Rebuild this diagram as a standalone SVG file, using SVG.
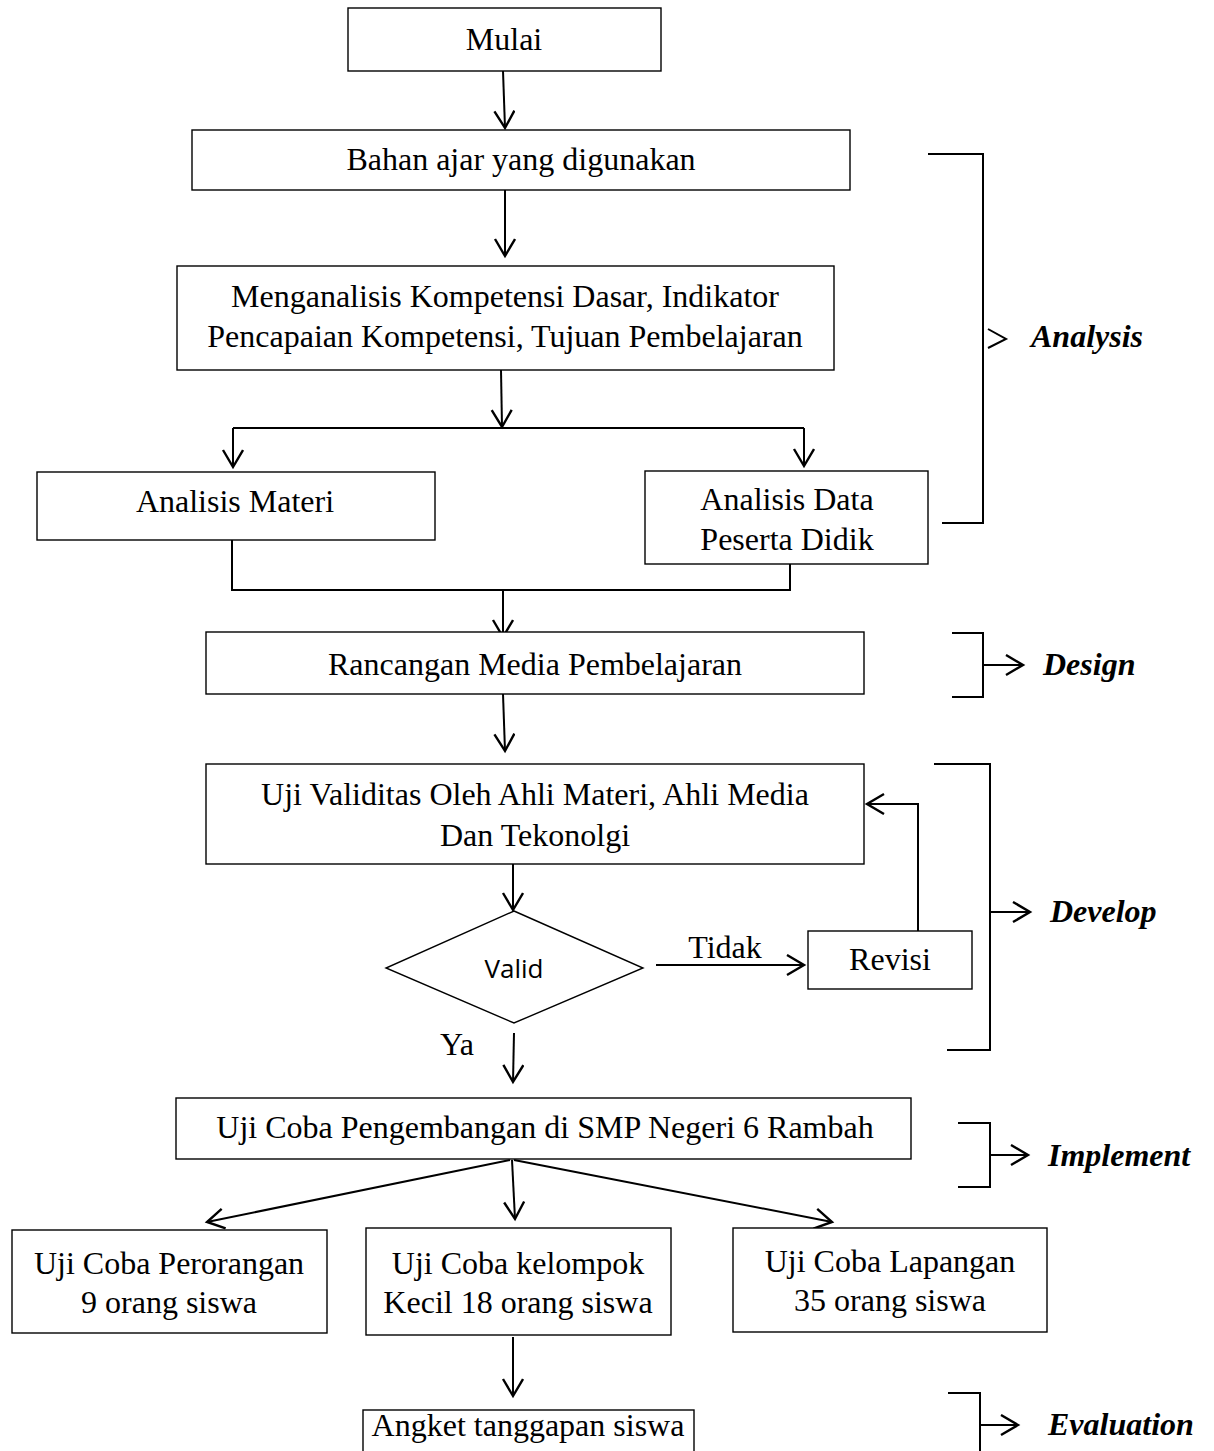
<svg xmlns="http://www.w3.org/2000/svg" width="1214" height="1451" viewBox="0 0 1214 1451">
<defs>
<style>
.box{fill:#fff;stroke:#000;stroke-width:1.4}
.t{font-family:"Liberation Serif","Times New Roman",serif;font-size:32px;fill:#000;text-anchor:middle}
.lab{font-family:"Liberation Serif","Times New Roman",serif;font-size:32px;font-weight:bold;font-style:italic;fill:#000}
.v{font-family:"Open Sans","Liberation Sans",sans-serif;font-size:26px;fill:#000;text-anchor:middle}
.c{fill:none;stroke:#000;stroke-width:2}
.a{fill:none;stroke:#000;stroke-width:2;marker-end:url(#ah)}
</style>
<marker id="ah" markerUnits="userSpaceOnUse" markerWidth="30" markerHeight="30" refX="20" refY="11" orient="auto" viewBox="0 0 30 30">
<path d="M3,1 L20,11 L3,21" fill="none" stroke="#000" stroke-width="2.4"/>
</marker>
</defs>
<rect width="1214" height="1451" fill="#fff"/>

<g id="connectors">
<line class="a" x1="503" y1="71" x2="505" y2="128"/>
<line class="a" x1="505" y1="190" x2="505" y2="256"/>
<line class="a" x1="501" y1="370" x2="502" y2="427"/>
<path class="c" d="M233,428 H804"/>
<line class="a" x1="233" y1="428" x2="233" y2="467"/>
<line class="a" x1="804" y1="428" x2="804" y2="466"/>
<path class="c" d="M232,540 V590 H790 V564"/>
<line class="a" x1="503" y1="590" x2="503" y2="637"/>
<line class="a" x1="503" y1="694" x2="505" y2="751"/>
<line class="a" x1="513" y1="864" x2="513" y2="910"/>
<line class="a" x1="656" y1="965" x2="804" y2="965"/>
<path class="a" d="M918,931 V804 H867"/>
<line class="a" x1="514" y1="1033" x2="513" y2="1082"/>
<line class="a" x1="510" y1="1160" x2="207" y2="1222"/>
<line class="a" x1="512" y1="1160" x2="515" y2="1219"/>
<line class="a" x1="514" y1="1160" x2="832" y2="1222"/>
<line class="a" x1="513" y1="1337" x2="513" y2="1396"/>
</g>

<g id="bracket-analysis">
<path class="c" d="M928,154 H983 V523 H942"/>
<path class="c" d="M988,329 L1006,339 L988,348"/>
<text class="lab" x="1031" y="347">Analysis</text>
</g>
<g id="bracket-design">
<path class="c" d="M952,633 H983 V697 H952"/>
<line class="a" x1="983" y1="665" x2="1023" y2="665"/>
<text class="lab" x="1043" y="675">Design</text>
</g>
<g id="bracket-develop">
<path class="c" d="M934,764 H990 V1050 H947"/>
<line class="a" x1="990" y1="912" x2="1030" y2="912"/>
<text class="lab" x="1050" y="922">Develop</text>
</g>
<g id="bracket-implement">
<path class="c" d="M958,1123 H990 V1187 H958"/>
<line class="a" x1="990" y1="1155" x2="1028" y2="1155"/>
<text class="lab" x="1048" y="1166">Implement</text>
</g>
<g id="bracket-evaluation">
<path class="c" d="M948,1393 H980 V1451"/>
<line class="a" x1="980" y1="1425" x2="1018" y2="1425"/>
<text class="lab" x="1048" y="1435">Evaluation</text>
</g>

<g id="mulai"><rect class="box" x="348" y="8" width="313" height="63"/><text class="t" x="504" y="50">Mulai</text></g>
<g id="bahan"><rect class="box" x="192" y="130" width="658" height="60"/><text class="t" x="521" y="170">Bahan ajar yang digunakan</text></g>
<g id="menganalisis"><rect class="box" x="177" y="266" width="657" height="104"/><text class="t" x="505" y="307">Menganalisis Kompetensi Dasar, Indikator</text><text class="t" x="505" y="347">Pencapaian Kompetensi, Tujuan Pembelajaran</text></g>
<g id="analisis-materi"><rect class="box" x="37" y="472" width="398" height="68"/><text class="t" x="235" y="512">Analisis Materi</text></g>
<g id="analisis-data"><rect class="box" x="645" y="471" width="283" height="93"/><text class="t" x="787" y="510">Analisis Data</text><text class="t" x="787" y="550">Peserta Didik</text></g>
<g id="rancangan"><rect class="box" x="206" y="632" width="658" height="62"/><text class="t" x="535" y="675">Rancangan Media Pembelajaran</text></g>
<g id="uji-validitas"><rect class="box" x="206" y="764" width="658" height="100"/><text class="t" x="535" y="805">Uji Validitas Oleh Ahli Materi, Ahli Media</text><text class="t" x="535" y="846">Dan Tekonolgi</text></g>
<g id="valid"><polygon class="box" points="514,911 643,968 514,1023 386,968"/><text class="v" x="514" y="978">Valid</text></g>
<text class="t" x="725" y="958">Tidak</text>
<text class="t" x="457" y="1055">Ya</text>
<g id="revisi"><rect class="box" x="808" y="931" width="164" height="58"/><text class="t" x="890" y="970">Revisi</text></g>
<g id="uji-coba"><rect class="box" x="176" y="1098" width="735" height="61"/><text class="t" x="545" y="1138">Uji Coba Pengembangan di SMP Negeri 6 Rambah</text></g>
<g id="perorangan"><rect class="box" x="12" y="1230" width="315" height="103"/><text class="t" x="169" y="1274">Uji Coba Perorangan</text><text class="t" x="169" y="1313">9 orang siswa</text></g>
<g id="kelompok"><rect class="box" x="366" y="1228" width="305" height="107"/><text class="t" x="518" y="1274">Uji Coba kelompok</text><text class="t" x="518" y="1313">Kecil 18 orang siswa</text></g>
<g id="lapangan"><rect class="box" x="733" y="1228" width="314" height="104"/><text class="t" x="890" y="1272">Uji Coba Lapangan</text><text class="t" x="890" y="1311">35 orang siswa</text></g>
<g id="angket"><rect class="box" x="363" y="1410" width="331" height="60"/><text class="t" x="528" y="1436">Angket tanggapan siswa</text></g>
</svg>
